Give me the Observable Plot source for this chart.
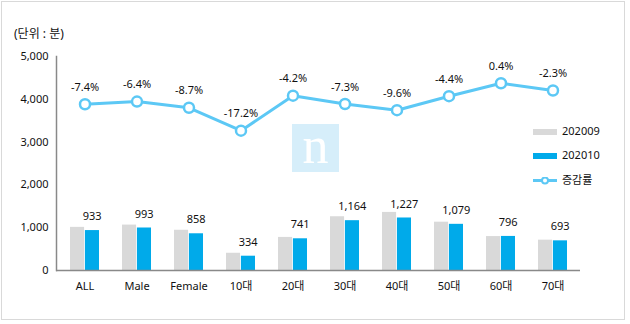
<!DOCTYPE html>
<html>
<head>
<meta charset="utf-8">
<script src="https://cdn.jsdelivr.net/npm/d3@7"></script>
<script src="https://cdn.jsdelivr.net/npm/@observablehq/plot@0.6"></script>
<style>
  html, body { margin: 0; padding: 0; background: #fff; }
  #wrap { position: relative; width: 630px; height: 324px; overflow: hidden;
          font-family: "Noto Sans", "Noto Sans CJK KR", sans-serif; color: #111; }
  #border { position: absolute; left: 1px; top: 1px; width: 624px; height: 319px;
            border: 1px solid #d9d9d9; box-sizing: border-box; pointer-events: none; }
  #unit { position: absolute; left: 14px; top: 24px; font-size: 12px; }
  #logo { position: absolute; left: 292px; top: 124px; width: 47px; height: 48px;
          background: #d6eefa; color: #fff; font-family: "Liberation Serif", "DejaVu Serif", serif;
          font-size: 52px; line-height: 44px; text-align: center; }
  .leg { position: absolute; left: 533px; font-size: 11px; }
  .leg .sw { position: absolute; left: 0; width: 24px; height: 6px; }
  .leg span.t { position: absolute; left: 29px; white-space: nowrap; line-height: 14px; }
  #chart { position: absolute; left: 0; top: 0; }
</style>
</head>
<body>
<div id="wrap">
  <div id="chart"></div>
  <div id="logo">n</div>
  <div id="unit">(단위 : 분)</div>
  <div class="leg" style="top:129px"><div class="sw" style="top:0;background:#d9d9d9"></div><span class="t" style="top:-5px">202009</span></div>
  <div class="leg" style="top:153px"><div class="sw" style="top:0;background:#00aaea"></div><span class="t" style="top:-5px">202010</span></div>
  <div class="leg" style="top:177px">
    <svg width="26" height="8" style="position:absolute;left:0;top:0">
      <line x1="0" y1="3.5" x2="24" y2="3.5" stroke="#5cc8f5" stroke-width="3"/>
      <circle cx="12" cy="3.5" r="3" fill="#fff" stroke="#5cc8f5" stroke-width="2"/>
    </svg>
    <span class="t" style="top:-4px">증감률</span>
  </div>
  <div id="border"></div>
</div>
<script>
const categories = ["ALL", "Male", "Female", "10대", "20대", "30대", "40대", "50대", "60대", "70대"];
const v202009 = [1008, 1061, 940, 403, 773, 1256, 1357, 1129, 793, 709];
const v202010 = [933, 993, 858, 334, 741, 1164, 1227, 1079, 796, 693];
const pctChange = [-7.4, -6.4, -8.7, -17.2, -4.2, -7.3, -9.6, -4.4, 0.4, -2.3];
const yTicks = [0, 1000, 2000, 3000, 4000, 5000];

// secondary (hidden) axis for the change rate, mapped onto the primary y
const LINE_ZERO = 4350, LINE_PER_PCT = 63;

const data = categories.map((c, i) => ({
  cat: c, a: v202009[i], b: v202010[i], pct: pctChange[i],
  ly: LINE_ZERO + pctChange[i] * LINE_PER_PCT
}));

const W = 630, H = 324;
const mL = 56, mR = 50, mT = 56, mB = 54;
const padInner = 0.45, padOuter = 0.225;
const step = (W - mL - mR) / (categories.length - padInner + 2 * padOuter);
const bw = step * (1 - padInner);

const font = '"Noto Sans", "Noto Sans CJK KR", sans-serif';

const chart = Plot.plot({
  width: W, height: H,
  marginLeft: mL, marginRight: mR, marginTop: mT, marginBottom: mB,
  style: { fontFamily: font, fontSize: "11px", color: "#111", background: "transparent" },
  x: { domain: categories, paddingInner: padInner, paddingOuter: padOuter, label: null },
  y: { domain: [0, 5000], label: null },
  marks: [
    Plot.axisY({ ticks: yTicks, tickFormat: d3.format(","), tickSize: 0, tickPadding: 8, label: null, fontSize: 11 }),
    Plot.axisX({ tickSize: 0, tickPadding: 12, label: null, fontSize: 11 }),
    Plot.barY(data, { x: "cat", y: "a", fill: "#d9d9d9", insetRight: bw / 2 + 0.5 }),
    Plot.barY(data, { x: "cat", y: "b", fill: "#00aaea", insetLeft: bw / 2 + 0.5 }),
    Plot.text(data, { x: "cat", y: "b", text: d => d3.format(",")(d.b), dx: bw / 4, dy: -14, fill: "#111", fontSize: 11 }),
    Plot.ruleY([0], { stroke: "#898989", strokeWidth: 1.5 }),
    Plot.frame({ anchor: "left", stroke: "#898989", strokeWidth: 1.5 }),
    Plot.line(data, { x: "cat", y: "ly", stroke: "#5cc8f5", strokeWidth: 3 }),
    Plot.dot(data, { x: "cat", y: "ly", r: 5, fill: "#fff", stroke: "#5cc8f5", strokeWidth: 2.5 }),
    Plot.text(data, { x: "cat", y: "ly", text: d => d.pct.toFixed(1) + "%", dy: -17, fill: "#111", fontSize: 11 })
  ]
});
document.getElementById("chart").appendChild(chart);
</script>
</body>
</html>
